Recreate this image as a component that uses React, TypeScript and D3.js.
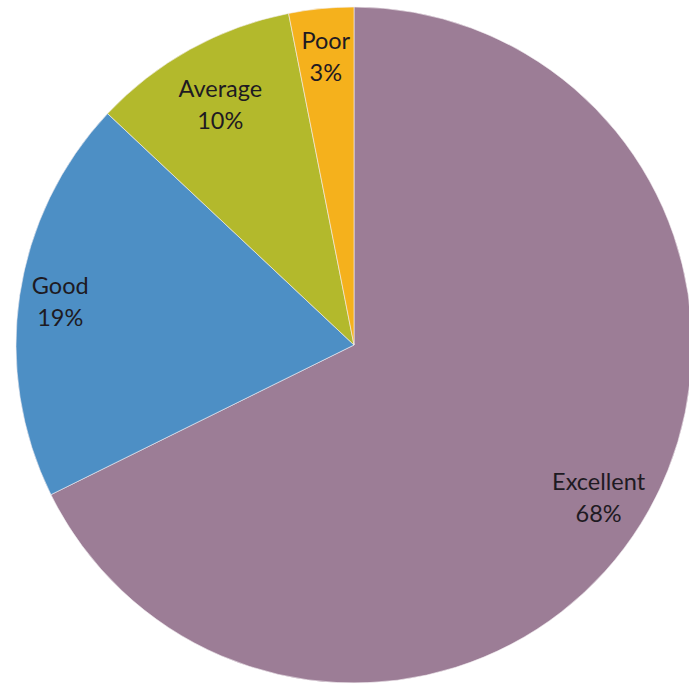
import React from "react";
import * as d3 from "d3";

const categories = ["Excellent", "Good", "Average", "Poor"];
const values = [67.7, 19.3, 9.9, 3.1];
const percentLabels = ["68%", "19%", "10%", "3%"];
const colors = ["#9c7d96", "#4d8fc5", "#b3b92c", "#f5b11c"];
const labelRadii = [288, 297, 276, 290];

const W = 689;
const H = 686;
const cx = 354;
const cy = 345;
const R = 338;

export default function App() {
  const data = categories.map((c, i) => ({ c, v: values[i], p: percentLabels[i], col: colors[i], lr: labelRadii[i] }));
  const pie = d3.pie<any>().value((d: any) => d.v).sort(null).startAngle(0).endAngle(2 * Math.PI);
  const arcs = pie(data);
  const arc = d3.arc<any>().innerRadius(0).outerRadius(R);
  return (
    <svg width={W} height={H} style={{ position: "absolute", left: 0, top: 0, background: "#fff" }}>
      <g transform={`translate(${cx},${cy})`}>
        {arcs.map((a: any, i: number) => (
          <path key={i} d={arc(a) as string} fill={a.data.col} stroke="#f4eef2" strokeWidth={1} strokeOpacity={0.6} />
        ))}
        {arcs.map((a: any, i: number) => {
          const la = d3.arc<any>().innerRadius(a.data.lr).outerRadius(a.data.lr);
          const [x, y] = la.centroid(a);
          return (
            <text key={"t" + i} x={x} y={y} textAnchor="middle" dominantBaseline="central" fontFamily="Lato, 'Open Sans', sans-serif" fontSize={23.5} fill="#1e1a22">
              <tspan x={x} y={y - 16}>{a.data.c}</tspan>
              <tspan x={x} y={y + 16}>{a.data.p}</tspan>
            </text>
          );
        })}
      </g>
    </svg>
  );
}
